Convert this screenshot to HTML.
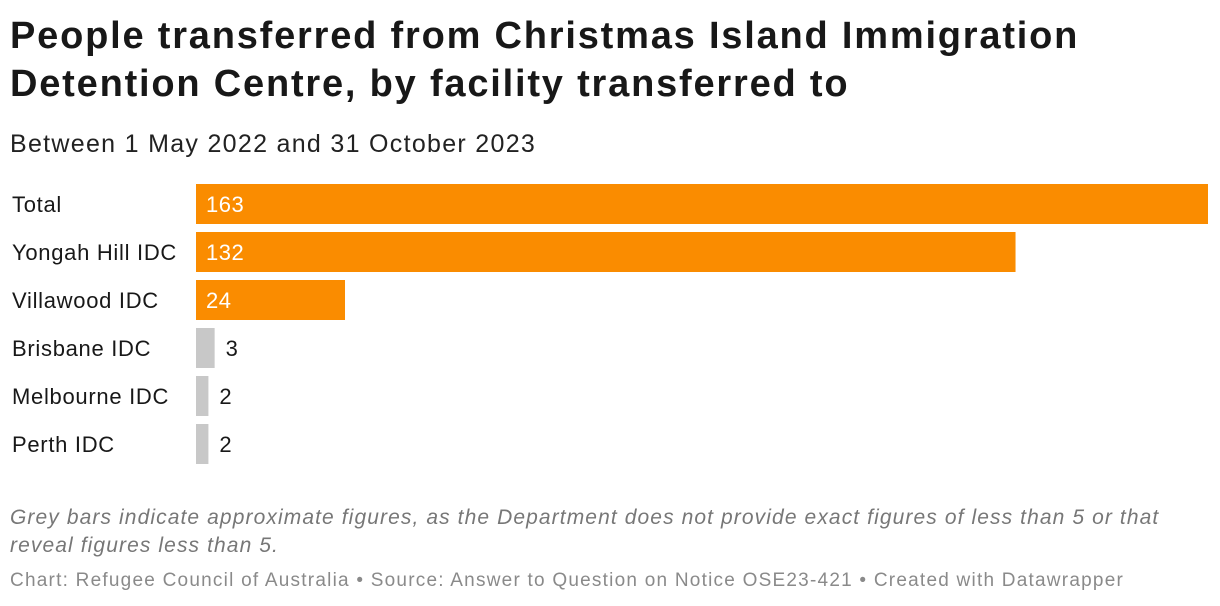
<!DOCTYPE html>
<html><head><meta charset="utf-8"><style>
body{margin:0;width:1220px;height:606px;background:#fff;font-family:"Liberation Sans",sans-serif;color:#181818;position:relative;overflow:hidden}
.t{position:absolute;left:10px;font-weight:bold;font-size:38px;line-height:48px;top:12px;letter-spacing:1.8px}
.s{position:absolute;left:10px;top:130px;font-size:25px;color:#222;letter-spacing:1.3px}
.n{position:absolute;left:10px;top:504px;font-size:21px;line-height:28px;font-style:italic;color:#777;width:1200px;letter-spacing:1.1px}
.f{position:absolute;left:10px;top:570px;font-size:19px;color:#8a8a8a;letter-spacing:1.23px}
svg{position:absolute;left:0;top:0}
</style></head><body>
<div class="t">People transferred from Christmas Island Immigration<br>Detention Centre, by facility transferred to</div>
<div class="s">Between 1 May 2022 and 31 October 2023</div>
<svg id="c" width="1220" height="606"></svg>
<div class="n">Grey bars indicate approximate figures, as the Department does not provide exact figures of less than 5 or that<br>reveal figures less than 5.</div>
<div class="f">Chart: Refugee Council of Australia • Source: Answer to Question on Notice OSE23-421 • Created with Datawrapper</div>
<script>
const categories=["Total","Yongah Hill IDC","Villawood IDC","Brisbane IDC","Melbourne IDC","Perth IDC"];
const values=[163,132,24,3,2,2];
const approximate=[false,false,false,true,true,true];
const svg=document.getElementById('c');
const NS='http://www.w3.org/2000/svg';
const x0=196,x1=1208,maxV=Math.max(...values);
const xs=v=>x0+(x1-x0)*v/maxV;
const y=i=>184+48*i;
categories.forEach((c,i)=>{
 const t=document.createElementNS(NS,'text');
 
 
 t.setAttribute('x',12);t.setAttribute('y',y(i)+28);t.setAttribute('font-size','22');t.setAttribute('fill','#181818');t.setAttribute('letter-spacing','0.7');
 t.textContent=c;svg.appendChild(t);
 const r=document.createElementNS(NS,'rect');
 
 
 const w=xs(values[i])-x0;
 r.setAttribute('x',x0);r.setAttribute('y',y(i));r.setAttribute('width',w);r.setAttribute('height',40);
 r.setAttribute('fill',approximate[i]?'#c8c8c8':'#fa8c00');svg.appendChild(r);
 const v=document.createElementNS(NS,'text');
 
 
 const inside=w>60;
 v.setAttribute('x',inside?x0+10:x0+w+11);v.setAttribute('y',y(i)+28);v.setAttribute('font-size','22');v.setAttribute('letter-spacing','0.5');
 v.setAttribute('fill',inside?'#fff':'#181818');v.textContent=values[i];svg.appendChild(v);
});
</script>
</body></html>
